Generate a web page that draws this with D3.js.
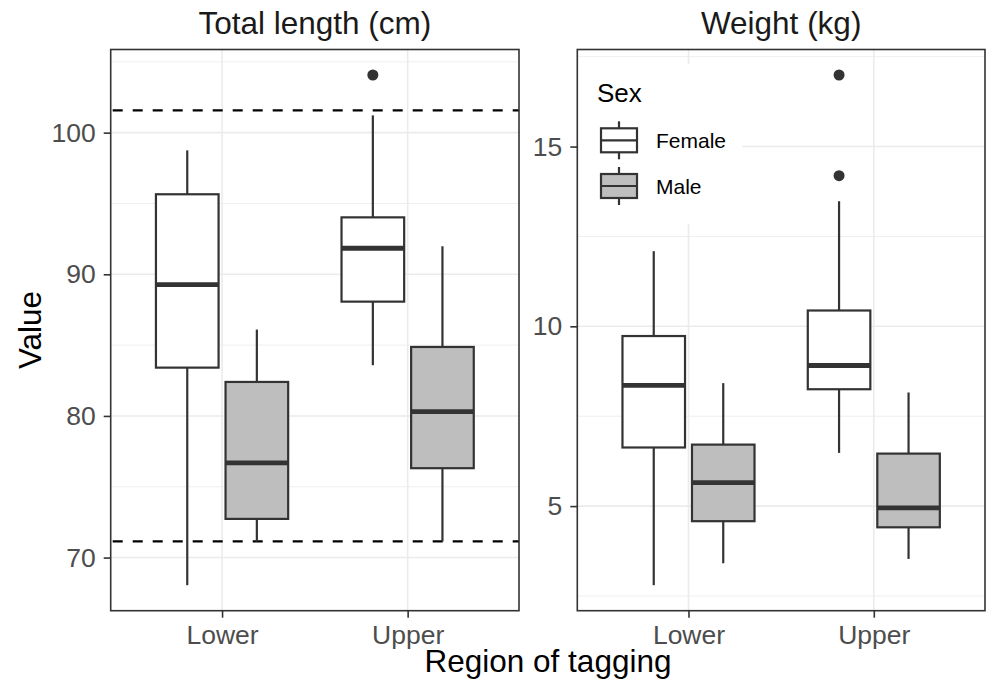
<!DOCTYPE html>
<html>
<head>
<meta charset="utf-8">
<script src="https://cdn.jsdelivr.net/npm/d3@7"></script>
<style>
  body { margin: 0; background: #fff; }
  text { font-family: "Liberation Sans", Arial, sans-serif; }
</style>
</head>
<body>
<svg id="chart" width="988" height="688"></svg>
<script>
// data: five-number summaries per region x sex
var regions = ["Lower", "Upper"];
var sexes   = ["Female", "Male"];

var lengthBoxes = [
  {region: "Lower", sex: "Female", lo: 68.05, q1: 83.41, med: 89.27, q3: 95.65, hi: 98.75,  out: []},
  {region: "Lower", sex: "Male",   lo: 71.14, q1: 72.73, med: 76.68, q3: 82.40, hi: 86.10,  out: []},
  {region: "Upper", sex: "Female", lo: 83.58, q1: 88.07, med: 91.84, q3: 94.02, hi: 101.22, out: [104.07]},
  {region: "Upper", sex: "Male",   lo: 71.14, q1: 76.31, med: 80.31, q3: 84.87, hi: 91.98,  out: []}
];
var weightBoxes = [
  {region: "Lower", sex: "Female", lo: 2.80, q1: 6.63, med: 8.36, q3: 9.73,  hi: 12.09, out: []},
  {region: "Lower", sex: "Male",   lo: 3.41, q1: 4.58, med: 5.65, q3: 6.71,  hi: 8.42,  out: []},
  {region: "Upper", sex: "Female", lo: 6.48, q1: 8.25, med: 8.91, q3: 10.44, hi: 13.48, out: [16.99, 14.19]},
  {region: "Upper", sex: "Male",   lo: 3.53, q1: 4.41, med: 4.95, q3: 6.46,  hi: 8.16,  out: []}
];
var lengthRefLines = [71.14, 101.57];
var lengthTicks = [70, 80, 90, 100];
var weightTicks = [5, 10, 15];

var fills = {Female: "#FFFFFF", Male: "#BEBEBE"};
var ink = "#333333";

var svg = d3.select("#chart");
var top_y = 49.5, bottom_y = 610.7;

function drawPanel(opt) {
  var g = svg.append("g");
  var x0 = opt.x0, x1 = opt.x1;

  var all = [];
  opt.boxes.forEach(function(b) { all.push(b.lo, b.hi); all = all.concat(b.out); });
  var ext = d3.extent(all), pad = (ext[1] - ext[0]) * 0.05;
  var y = d3.scaleLinear().domain([ext[0] - pad, ext[1] + pad]).range([bottom_y, top_y]);
  var x = d3.scalePoint().domain(regions).range([x0, x1]).padding(0.6);
  var step = x.step();
  var dodge = d3.scaleBand().domain(sexes).range([-0.375 * step, 0.375 * step]);
  var bw = dodge.bandwidth() * 0.9;

  // grid
  var ticks = opt.ticks;
  var minor = d3.range(ticks[0] - opt.tickStep / 2, y.domain()[1], opt.tickStep)
    .filter(function(v) { return v > y.domain()[0]; });
  g.selectAll(".minor").data(minor).enter().append("line")
    .attr("x1", x0).attr("x2", x1)
    .attr("y1", function(d) { return y(d); }).attr("y2", function(d) { return y(d); })
    .attr("stroke", "#EFEFEF").attr("stroke-width", 1);
  g.selectAll(".major").data(ticks).enter().append("line")
    .attr("x1", x0).attr("x2", x1)
    .attr("y1", function(d) { return y(d); }).attr("y2", function(d) { return y(d); })
    .attr("stroke", "#EBEBEB").attr("stroke-width", 1.6);
  g.selectAll(".vmajor").data(regions).enter().append("line")
    .attr("x1", function(d) { return x(d); }).attr("x2", function(d) { return x(d); })
    .attr("y1", top_y).attr("y2", bottom_y)
    .attr("stroke", "#EBEBEB").attr("stroke-width", 1.6);

  if (opt.legend) {
    g.append("rect").attr("x", x0 + 2).attr("y", 64).attr("width", 163).attr("height", 160)
      .attr("fill", "#fff");
  }

  // reference lines
  if (opt.refs) {
    g.selectAll(".ref").data(opt.refs).enter().append("line")
      .attr("x1", x0 + 2).attr("x2", x1)
      .attr("y1", function(d) { return y(d); }).attr("y2", function(d) { return y(d); })
      .attr("stroke", "#000").attr("stroke-width", 2.2).attr("stroke-dasharray", "10,10");
  }

  // boxes
  var bg = g.selectAll(".box").data(opt.boxes).enter().append("g")
    .attr("transform", function(d) { return "translate(" + (x(d.region) + dodge(d.sex) + dodge.bandwidth() / 2) + ",0)"; });
  bg.append("line").attr("x1", 0).attr("x2", 0)
    .attr("y1", function(d) { return y(d.hi); }).attr("y2", function(d) { return y(d.q3); })
    .attr("stroke", ink).attr("stroke-width", 2.2);
  bg.append("line").attr("x1", 0).attr("x2", 0)
    .attr("y1", function(d) { return y(d.q1); }).attr("y2", function(d) { return y(d.lo); })
    .attr("stroke", ink).attr("stroke-width", 2.2);
  bg.append("rect").attr("x", -bw / 2).attr("width", bw)
    .attr("y", function(d) { return y(d.q3); })
    .attr("height", function(d) { return y(d.q1) - y(d.q3); })
    .attr("fill", function(d) { return fills[d.sex]; })
    .attr("stroke", ink).attr("stroke-width", 2.2);
  bg.append("line").attr("x1", -bw / 2).attr("x2", bw / 2)
    .attr("y1", function(d) { return y(d.med); }).attr("y2", function(d) { return y(d.med); })
    .attr("stroke", ink).attr("stroke-width", 4.8);
  bg.selectAll("circle").data(function(d) { return d.out; }).enter().append("circle")
    .attr("cx", 0).attr("cy", function(d) { return y(d); }).attr("r", 5.5)
    .attr("fill", ink);

  // panel border
  g.append("rect").attr("x", x0).attr("y", top_y).attr("width", x1 - x0).attr("height", bottom_y - top_y)
    .attr("fill", "none").attr("stroke", ink).attr("stroke-width", 1.6);

  // axes
  var ya = g.append("g").attr("transform", "translate(" + x0 + ",0)")
    .call(d3.axisLeft(y).tickValues(ticks).tickSize(7).tickPadding(8).tickFormat(d3.format("d")));
  var xa = g.append("g").attr("transform", "translate(0," + bottom_y + ")")
    .call(d3.axisBottom(x).tickSize(7).tickPadding(7));
  [ya, xa].forEach(function(a) {
    a.select(".domain").remove();
    a.selectAll(".tick line").attr("stroke", ink).attr("stroke-width", 1.6);
    a.selectAll(".tick text").attr("fill", "#4D4D4D").style("font-size", "26.5px")
      .style("font-family", "'Liberation Sans', Arial, sans-serif");
  });

  // strip title
  g.append("text").attr("x", (x0 + x1) / 2).attr("y", 34)
    .attr("text-anchor", "middle").style("font-size", "31.5px").attr("fill", "#1A1A1A")
    .text(opt.title);

  if (opt.legend) {
    var lg = g.append("g");
    lg.append("text").attr("x", 597).attr("y", 101.5).style("font-size", "26px").attr("fill", "#000").text("Sex");
    var keys = lg.selectAll(".key").data(sexes).enter().append("g")
      .attr("transform", function(d, i) { return "translate(619," + (140.3 + i * 45.7) + ")"; });
    keys.append("line").attr("x1", 0).attr("x2", 0).attr("y1", -19).attr("y2", 19)
      .attr("stroke", ink).attr("stroke-width", 2.2);
    keys.append("rect").attr("x", -18).attr("y", -12).attr("width", 36).attr("height", 24)
      .attr("fill", function(d) { return fills[d]; }).attr("stroke", ink).attr("stroke-width", 2.2);
    keys.append("line").attr("x1", -18).attr("x2", 18).attr("y1", 0).attr("y2", 0)
      .attr("stroke", ink).attr("stroke-width", 2.2);
    keys.append("text").attr("x", 37).attr("y", 7.5).style("font-size", "21px").attr("fill", "#000")
      .text(function(d) { return d; });
  }
}

drawPanel({x0: 110.7, x1: 519, boxes: lengthBoxes, ticks: lengthTicks, tickStep: 10,
           refs: lengthRefLines, title: "Total length (cm)"});
drawPanel({x0: 577.3, x1: 985, boxes: weightBoxes, ticks: weightTicks, tickStep: 5,
           legend: true, title: "Weight (kg)"});

svg.append("text").attr("x", 548).attr("y", 672).attr("text-anchor", "middle")
  .style("font-size", "31.5px").attr("fill", "#000").text("Region of tagging");
svg.append("text").attr("transform", "translate(41,330) rotate(-90)").attr("text-anchor", "middle")
  .style("font-size", "31.5px").attr("fill", "#000").text("Value");
</script>
</body>
</html>
